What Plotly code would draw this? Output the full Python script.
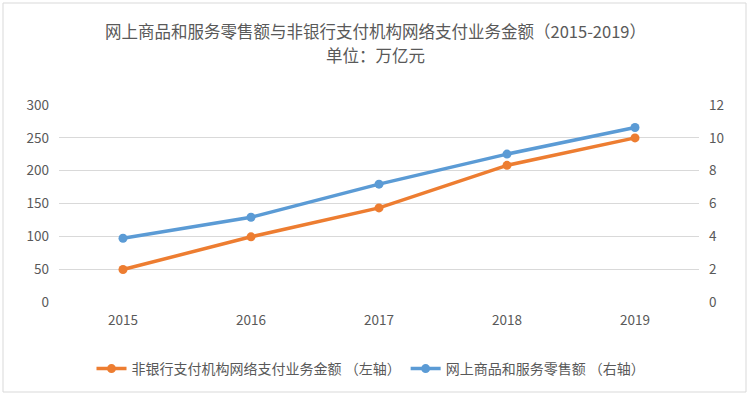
import plotly.graph_objects as go

years = ["2015", "2016", "2017", "2018", "2019"]
nonbank_payment = [49.48, 99.27, 143.26, 208.07, 249.88]   # left axis, 万亿元
online_retail = [3.88, 5.16, 7.18, 9.01, 10.63]            # right axis, 万亿元

name_left = "非银行支付机构网络支付业务金额 （左轴）"
name_right = "网上商品和服务零售额 （右轴）"
title_line1 = "网上商品和服务零售额与非银行支付机构网络支付业务金额（2015-2019）"
title_line2 = "单位：万亿元"

FONT = "Noto Sans CJK SC, Noto Sans, sans-serif"
GREY = "#595959"

fig = go.Figure()
fig.add_trace(go.Scatter(
    x=years, y=nonbank_payment, name=name_left, mode="lines+markers",
    line=dict(color="#ED7D31", width=3.5), marker=dict(size=9, color="#ED7D31"),
    yaxis="y"))
fig.add_trace(go.Scatter(
    x=years, y=online_retail, name=name_right, mode="lines+markers",
    line=dict(color="#5B9BD5", width=3.5), marker=dict(size=9, color="#5B9BD5"),
    yaxis="y2"))

W, H = 751, 397
L, R, T, B = 59, 52, 105, 95
pw, ph = W - L - R, H - T - B

def px(x):
    return (x - L) / pw

def py(y):
    return (H - B - y) / ph

fig.update_layout(
    width=W, height=H,
    margin=dict(l=L, r=R, t=T, b=B, autoexpand=False),
    paper_bgcolor="white", plot_bgcolor="white",
    font=dict(family=FONT, color=GREY, size=13),
    xaxis=dict(type="category", range=[-0.5, 4.5], showgrid=False, zeroline=False,
               showline=False, ticks="", tickfont=dict(size=13.5, color=GREY),
               ticklabelstandoff=8),
    yaxis=dict(range=[0, 300], dtick=50, showgrid=True, gridcolor="#D9D9D9",
               gridwidth=1, zeroline=False, showline=False, ticks="",
               tickfont=dict(size=13.5, color=GREY), ticklabelstandoff=9),
    yaxis2=dict(range=[0, 12], dtick=2, overlaying="y", side="right",
                showgrid=False, zeroline=False, showline=False, ticks="",
                tickfont=dict(size=13.5, color=GREY), ticklabelstandoff=9),
    showlegend=True,
    legend=dict(orientation="h", xref="container", yref="container",
                x=371 / W, xanchor="center", y=(H - 369) / H, yanchor="middle",
                font=dict(size=14, color=GREY, family=FONT),
                tracegroupgap=0, bgcolor="rgba(0,0,0,0)"),
    annotations=[
        dict(text=title_line1, xref="paper", yref="paper", x=px(375), y=py(31),
             xanchor="center", yanchor="middle", showarrow=False, borderpad=0,
             font=dict(size=16.5, color=GREY, family=FONT)),
        dict(text=title_line2, xref="paper", yref="paper", x=px(375), y=py(55.5),
             xanchor="center", yanchor="middle", showarrow=False, borderpad=0,
             font=dict(size=16.5, color=GREY, family=FONT)),
    ],
    shapes=[dict(type="rect", xref="paper", yref="paper",
                 x0=px(3), x1=px(746), y0=py(392), y1=py(3),
                 line=dict(color="#D9D9D9", width=1), layer="below")],
)

fig.write_html(
    "out.html",
    config={"displayModeBar": False},
    post_script="document.body.style.margin='0';document.body.style.overflow='hidden';",
)
